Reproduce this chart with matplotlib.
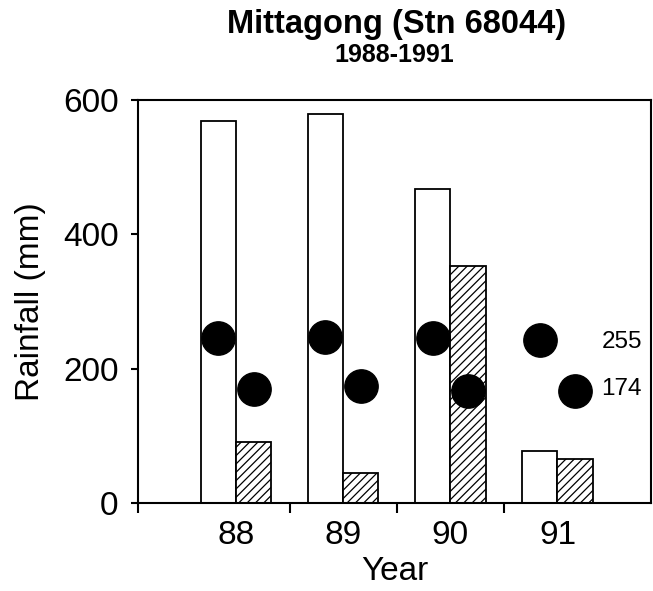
import matplotlib
matplotlib.use("Agg")
import matplotlib.pyplot as plt
import numpy as np

years = ["88", "89", "90", "91"]
total_rain = [569, 579, 467, 77]        # open bars
summer_rain = [91, 45, 353, 65]         # hatched bars
mean_total = [246, 247, 245, 243]       # upper dots
mean_summer = [170, 174, 167, 167]      # lower dots
mean_labels = ["255", "174"]

plt.rcParams['font.family'] = ['Liberation Sans', 'DejaVu Sans']
plt.rcParams['hatch.linewidth'] = 0.9

fig = plt.figure(figsize=(6.53, 5.91), dpi=100)
ax = fig.add_axes([0.2113, 0.1489, 0.7862, 0.6819])

x = np.arange(len(years))
w = 0.33
ax.bar(x - w/2, total_rain, width=w, facecolor='white', edgecolor='black', linewidth=1.3, zorder=2)
ax.bar(x + w/2, summer_rain, width=w, facecolor='white', edgecolor='black', linewidth=1.3,
       hatch='////', zorder=2)
ax.plot(x - w/2, mean_total, 'o', color='black', markersize=24, zorder=3, linestyle='none')
ax.plot(x + w/2, mean_summer, 'o', color='black', markersize=24, zorder=3, linestyle='none')

ax.text(3.41, mean_total[-1] - 3, mean_labels[0], fontsize=17.5, va='center', ha='left')
ax.text(3.41, mean_summer[-1] + 3, mean_labels[1], fontsize=17.5, va='center', ha='left')

ax.set_xlim(-0.914, 3.876)
ax.set_ylim(0, 600)
ax.set_yticks([0, 200, 400, 600])
ax.set_xticks(x)
ax.set_xticklabels(years)
ax.set_xticks([-0.914, 0.5, 1.5, 2.5], minor=True)
ax.tick_params(axis='x', which='major', length=0, pad=12, labelsize=24)
ax.tick_params(axis='x', which='minor', length=7, width=1.5, direction='out')
ax.tick_params(axis='y', which='major', length=5, width=1.5, direction='out', pad=9, labelsize=24)
for s in ax.spines.values():
    s.set_linewidth(1.5)

ax.set_xlabel("Year", fontsize=24, labelpad=4)
ax.set_ylabel("Rainfall (mm)", fontsize=24, labelpad=12)

fig.text(0.608, 0.944, "Mittagong (Stn 68044)", fontsize=23.5, fontweight='bold', ha='center', va='baseline')
fig.text(0.604, 0.895, "1988-1991", fontsize=18, fontweight='bold', ha='center', va='baseline')

fig.savefig("out.png", dpi=100)
